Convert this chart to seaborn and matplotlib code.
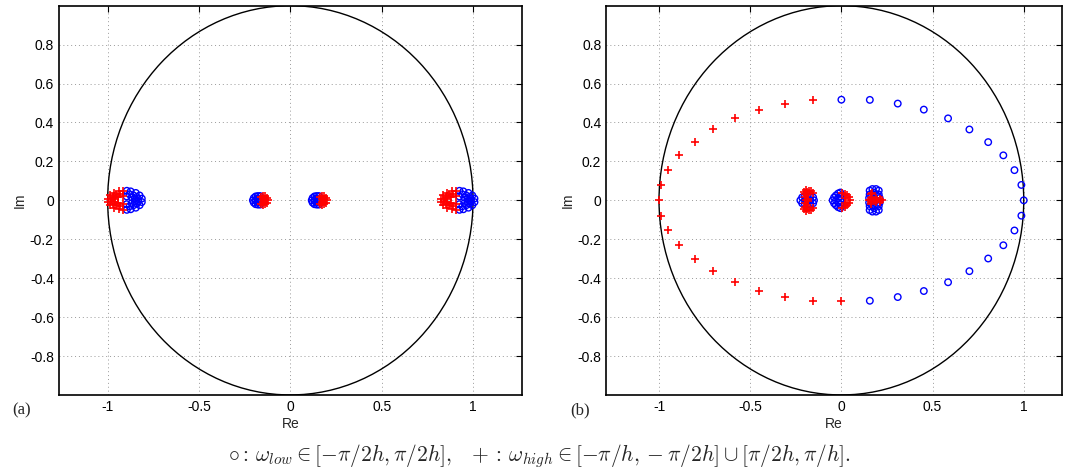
import numpy as np
import seaborn as sns
import matplotlib.pyplot as plt
from matplotlib.patches import Circle

# ---- panel (a): omega_low (blue circles) ----
a_low_x = [-0.895, -0.874, -0.846, -0.825, -0.813, -0.813, -0.825, -0.846, -0.874, -0.895,
           -0.880, -0.858, -0.841, -0.832, -0.832, -0.841, -0.858, -0.880,
           -0.896, -0.869, -0.851, -0.851, -0.869, -0.896,
           -0.205, -0.200, -0.200, -0.190, -0.190, -0.190, -0.178, -0.178, -0.178, -0.178,
           -0.166, -0.166, -0.166, -0.166,
           0.117, 0.122, 0.122, 0.132, 0.132, 0.132, 0.144, 0.144, 0.144, 0.144,
           0.156, 0.156, 0.156, 0.156,
           0.926, 0.947, 0.975, 0.996, 1.008, 1.008, 0.996, 0.975, 0.947, 0.926,
           0.941, 0.963, 0.980, 0.989, 0.989, 0.980, 0.963, 0.941,
           0.925, 0.952, 0.970, 0.970, 0.952, 0.925]
a_low_y = [0.049, 0.046, 0.038, 0.025, 0.009, -0.009, -0.025, -0.038, -0.046, -0.049,
           0.031, 0.025, 0.017, 0.006, -0.006, -0.017, -0.025, -0.031,
           0.020, 0.015, 0.007, -0.007, -0.015, -0.020,
           0.0, 0.012, -0.012, 0.020, -0.020, 0.0, 0.022, -0.022, 0.008, -0.008,
           0.022, -0.022, 0.008, -0.008,
           0.0, 0.012, -0.012, 0.020, -0.020, 0.0, 0.022, -0.022, 0.008, -0.008,
           0.022, -0.022, 0.008, -0.008,
           0.049, 0.046, 0.038, 0.025, 0.009, -0.009, -0.025, -0.038, -0.046, -0.049,
           0.031, 0.025, 0.017, 0.006, -0.006, -0.017, -0.025, -0.031,
           0.020, 0.015, 0.007, -0.007, -0.015, -0.020]

# ---- panel (a): omega_high (red plus) ----
a_high_x = [-0.915, -0.938, -0.966, -0.987, -0.999, -0.999, -0.987, -0.966, -0.938, -0.915,
            -0.932, -0.954, -0.971, -0.980, -0.980, -0.971, -0.954, -0.932,
            -0.916, -0.943, -0.961, -0.961, -0.943, -0.916,
            -0.122, -0.128, -0.128, -0.138, -0.138, -0.138, -0.150, -0.150, -0.150, -0.150,
            -0.160, -0.160,
            0.200, 0.194, 0.194, 0.184, 0.184, 0.184, 0.172, 0.172, 0.172, 0.172,
            0.162, 0.162,
            0.906, 0.883, 0.855, 0.834, 0.822, 0.822, 0.834, 0.855, 0.883, 0.906,
            0.889, 0.867, 0.850, 0.841, 0.841, 0.850, 0.867, 0.889,
            0.905, 0.878, 0.860, 0.860, 0.878, 0.905]
a_high_y = [0.049, 0.046, 0.038, 0.025, 0.009, -0.009, -0.025, -0.038, -0.046, -0.049,
            0.031, 0.025, 0.017, 0.006, -0.006, -0.017, -0.025, -0.031,
            0.020, 0.015, 0.007, -0.007, -0.015, -0.020,
            0.0, 0.012, -0.012, 0.020, -0.020, 0.0, 0.022, -0.022, 0.008, -0.008,
            0.018, -0.018,
            0.0, 0.012, -0.012, 0.020, -0.020, 0.0, 0.022, -0.022, 0.008, -0.008,
            0.018, -0.018,
            0.049, 0.046, 0.038, 0.025, 0.009, -0.009, -0.025, -0.038, -0.046, -0.049,
            0.031, 0.025, 0.017, 0.006, -0.006, -0.017, -0.025, -0.031,
            0.020, 0.015, 0.007, -0.007, -0.015, -0.020]

# ---- panel (b): omega_low (blue circles) ----
b_low_x = [0.0, 0.156, 0.309, 0.452, 0.585, 0.702, 0.805, 0.888, 0.949, 0.987, 1.0,
           0.987, 0.949, 0.888, 0.805, 0.702, 0.585, 0.452, 0.309, 0.156,
           -0.225, -0.215, -0.215, -0.200, -0.200, -0.200, -0.185, -0.185, -0.170, -0.170,
           -0.170, -0.155, -0.155, -0.150,
           -0.048, -0.040, -0.040, -0.030, -0.030, -0.030, -0.018, -0.018, -0.018, -0.018,
           -0.006, -0.006, -0.006, -0.006, -0.006,
           0.155, 0.155, 0.170, 0.170, 0.190, 0.190, 0.205, 0.205, 0.155, 0.155,
           0.205, 0.205, 0.152, 0.152, 0.210, 0.210, 0.180, 0.180, 0.168, 0.168,
           0.195, 0.195]
b_low_y = [0.517, 0.516, 0.497, 0.466, 0.421, 0.364, 0.299, 0.231, 0.155, 0.079, 0.0,
           -0.079, -0.155, -0.231, -0.299, -0.364, -0.421, -0.466, -0.497, -0.516,
           0.0, 0.015, -0.015, 0.020, -0.020, 0.0, 0.020, -0.020, 0.020, -0.020,
           0.0, 0.015, -0.015, 0.0,
           0.0, 0.015, -0.015, 0.025, -0.025, 0.0, 0.035, -0.035, 0.012, -0.012,
           0.040, -0.040, 0.020, -0.020, 0.0,
           0.050, -0.050, 0.058, -0.058, 0.058, -0.058, 0.050, -0.050, 0.030, -0.030,
           0.030, -0.030, 0.012, -0.012, 0.012, -0.012, 0.040, -0.040, 0.025, -0.025,
           0.025, -0.025]

# ---- panel (b): omega_high (red plus) ----
b_high_x = [-0.156, -0.309, -0.452, -0.585, -0.702, -0.805, -0.888, -0.949, -0.987, -1.0,
            -0.987, -0.949, -0.888, -0.805, -0.702, -0.585, -0.452, -0.309, -0.156, 0.0,
            -0.195, -0.195, -0.190, -0.190, -0.200, -0.200, -0.190, -0.190, -0.200, -0.200,
            -0.195, -0.185, -0.185, -0.175, -0.175, -0.165, -0.165, -0.155, -0.155,
            -0.205, -0.205,
            0.048, 0.040, 0.040, 0.030, 0.030, 0.018, 0.018, 0.018, 0.018, 0.006, 0.006,
            0.150, 0.165, 0.180, 0.195, 0.210, 0.225, 0.160, 0.160, 0.190, 0.190,
            0.210, 0.210, 0.160, 0.170, 0.160]
b_high_y = [0.516, 0.497, 0.466, 0.421, 0.364, 0.299, 0.231, 0.155, 0.079, 0.0,
            -0.079, -0.155, -0.231, -0.299, -0.364, -0.421, -0.466, -0.497, -0.516, -0.517,
            0.055, -0.055, 0.045, -0.045, 0.035, -0.035, 0.025, -0.025, 0.015, -0.015,
            0.0, 0.005, -0.005, 0.050, -0.050, 0.048, -0.048, 0.040, -0.040,
            0.045, -0.045,
            0.0, 0.015, -0.015, 0.025, -0.025, 0.035, -0.035, 0.012, -0.012, 0.040, -0.040,
            0.0, 0.0, 0.0, 0.0, 0.0, 0.0, 0.010, -0.010, 0.010, -0.010,
            0.008, -0.008, 0.030, 0.040, -0.020]

x_ticks = [-1, -0.5, 0, 0.5, 1]
y_ticks = [-0.8, -0.6, -0.4, -0.2, 0, 0.2, 0.4, 0.6, 0.8]
tick_labels_y = ["-0.8", "-0.6", "-0.4", "-0.2", "0", "0.2", "0.4", "0.6", "0.8"]
tick_labels_x = ["-1", "-0.5", "0", "0.5", "1"]

sns.set_style("white")
plt.rcParams['font.family'] = ['Liberation Sans', 'DejaVu Sans']
plt.rcParams['mathtext.fontset'] = 'cm'

fig = plt.figure(figsize=(10.69, 4.73), dpi=100)
ax_a = fig.add_axes([0.0549, 0.165, 0.4334, 0.823])
ax_b = fig.add_axes([0.567, 0.165, 0.4265, 0.823])

panels = [
    (ax_a, a_low_x, a_low_y, a_high_x, a_high_y, (-1.268, 1.268)),
    (ax_b, b_low_x, b_low_y, b_high_x, b_high_y, (-1.29, 1.21)),
]

for ax, lx, ly, hx, hy, xlim in panels:
    ax.add_patch(Circle((0, 0), 1.0, fill=False, color='black', lw=1.0, zorder=2))
    sns.scatterplot(x=lx, y=ly, ax=ax, marker='o', s=22, facecolor='none',
                    edgecolor='blue', linewidth=1.0, zorder=3)
    sns.scatterplot(x=hx, y=hy, ax=ax, marker='+', s=30, color='red',
                    linewidth=1.2, zorder=4)
    ax.set_xlim(*xlim)
    ax.set_ylim(-1.0, 1.0)
    ax.set_xticks(x_ticks)
    ax.set_xticklabels(tick_labels_x)
    ax.set_yticks(y_ticks)
    ax.set_yticklabels(tick_labels_y)
    ax.grid(True, linestyle=(0, (1, 3)), color='#999999', linewidth=0.7)
    ax.tick_params(direction='in', top=True, right=True, length=4, width=0.8,
                   labelsize=10, colors='black')
    for sp in ax.spines.values():
        sp.set_color('black')
        sp.set_linewidth(1.2)
    ax.set_xlabel("Re", fontsize=10, labelpad=2)
    ax.set_ylabel("Im", fontsize=10, labelpad=2)

fig.text(0.011, 0.132, "(a)", family='Liberation Serif', fontsize=12, va='center')
fig.text(0.533, 0.132, "(b)", family='Liberation Serif', fontsize=12, va='center')
fig.text(0.505, 0.035,
         r"$\circ:\,\omega_{low}\in[-\pi/2h,\pi/2h],\ \ +:\,\omega_{high}\in[-\pi/h,-\pi/2h]\cup[\pi/2h,\pi/h].$",
         fontsize=15.5, ha='center', va='center')

fig.savefig("out.png", dpi=100)
